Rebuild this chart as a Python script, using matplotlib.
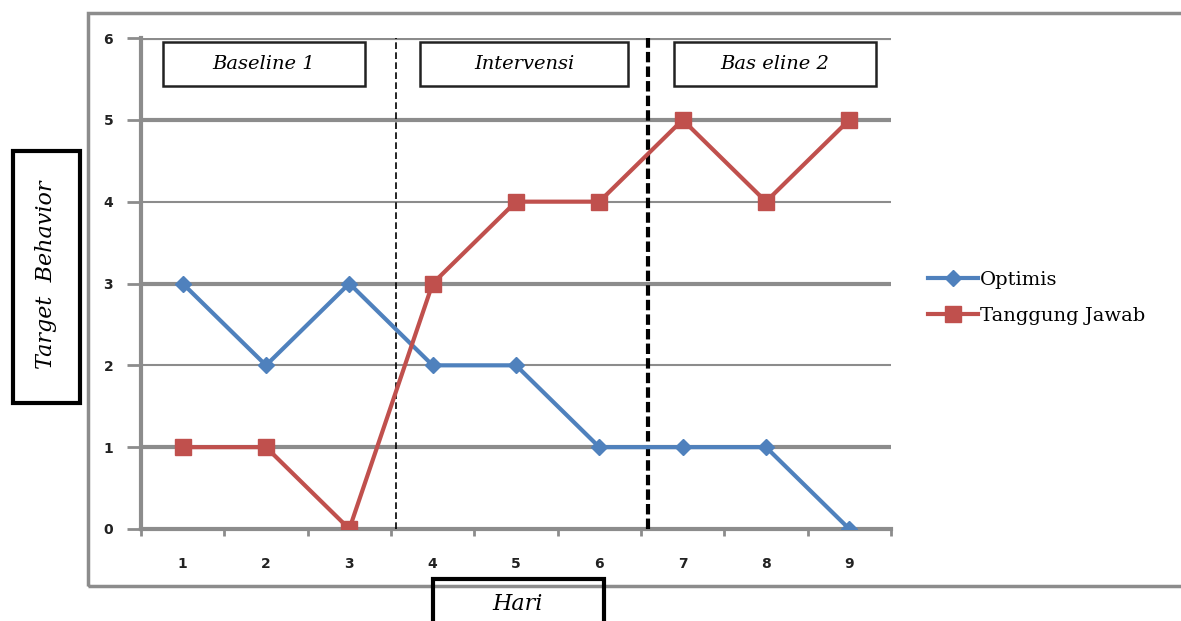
import matplotlib
matplotlib.use("Agg")
import matplotlib.pyplot as plt
from matplotlib.patches import Rectangle

# data
hari = [1, 2, 3, 4, 5, 6, 7, 8, 9]
optimis = [3, 2, 3, 2, 2, 1, 1, 1, 0]
tanggung_jawab = [1, 1, 0, 3, 4, 4, 5, 4, 5]
phases = ["Baseline 1", "Intervensi", "Bas eline 2"]
phase_bounds = [3.56, 6.58]

fig = plt.figure(figsize=(11.81, 6.21), dpi=100)
ax = fig.add_axes([141 / 1181, 1 - 529 / 621, 750 / 1181, 491 / 621])

# outer chart frame
fig.patches.append(Rectangle((88 / 1181, 1 - 586 / 621), 1.1, 573 / 621,
                             transform=fig.transFigure, fill=False,
                             edgecolor="#8c8c8c", lw=2.5, zorder=0))

blue = "#4F81BD"
red = "#C0504D"
ax.plot(hari, optimis, color=blue, lw=3, marker="D", ms=8, label="Optimis", zorder=4)
ax.plot(hari, tanggung_jawab, color=red, lw=3, marker="s", ms=11, label="Tanggung Jawab", zorder=5)

ax.set_xlim(0.5, 9.5)
ax.set_ylim(0, 6)
ax.set_xticks(hari)
ax.set_xticks([i + 0.5 for i in range(10)], minor=True)
ax.set_yticks(range(7))
ax.tick_params(axis="x", which="major", length=0, pad=20, labelsize=10)
ax.tick_params(axis="x", which="minor", length=5, width=2, color="#8c8c8c", direction="out")
ax.tick_params(axis="y", length=10, width=2, color="#8c8c8c", pad=10, labelsize=10)
for lab in ax.get_xticklabels() + ax.get_yticklabels():
    lab.set_fontweight("bold")
    lab.set_color("#222222")

for y in range(1, 7):
    thick = y % 2 == 1 or y == 6
    ax.axhline(y, color="#8c8c8c", lw=3 if thick else 1.5, zorder=1)

for s in ["top", "right"]:
    ax.spines[s].set_visible(False)
for s in ["left", "bottom"]:
    ax.spines[s].set_color("#8c8c8c")
    ax.spines[s].set_linewidth(3)

ax.axvline(phase_bounds[0], color="black", lw=1.2, ls=(0, (4, 2)), zorder=3)
ax.axvline(phase_bounds[1], color="black", lw=3, ls=(0, (2.5, 1)), zorder=3)

serif = "DejaVu Serif"
box_x = [(163, 365), (420, 628), (674, 876)]
for (x0, x1), name in zip(box_x, phases):
    fig.patches.append(Rectangle((x0 / 1181, 1 - 86 / 621), (x1 - x0) / 1181, 44 / 621,
                                 transform=fig.transFigure, fill=True, facecolor="white",
                                 edgecolor="#222222", lw=1.8, zorder=6))
    fig.text((x0 + x1) / 2 / 1181, 1 - 64 / 621, name, ha="center", va="center",
             fontsize=14, style="italic", family=serif, zorder=7)

# y label box
fig.patches.append(Rectangle((13 / 1181, 1 - 403 / 621), 67 / 1181, 252 / 621,
                             transform=fig.transFigure, fill=False,
                             edgecolor="black", lw=3))
fig.text(46 / 1181, 1 - 275 / 621, "Target  Behavior", rotation=90, ha="center",
         va="center", fontsize=16, style="italic", family=serif)

# x label box
fig.patches.append(Rectangle((433 / 1181, -0.05), 171 / 1181, 1 - 579 / 621 + 0.05,
                             transform=fig.transFigure, fill=False,
                             edgecolor="black", lw=3))
fig.text(518 / 1181, 1 - 604 / 621, "Hari", ha="center", va="center",
         fontsize=16, style="italic", family=serif)

leg = ax.legend(loc="center left", bbox_to_anchor=(910 / 1181, 1 - 298 / 621),
                bbox_transform=fig.transFigure, frameon=False, handlelength=2.6,
                handletextpad=0.1, labelspacing=0.9,
                prop={"family": serif, "size": 14})

fig.savefig("out.png", dpi=100)
